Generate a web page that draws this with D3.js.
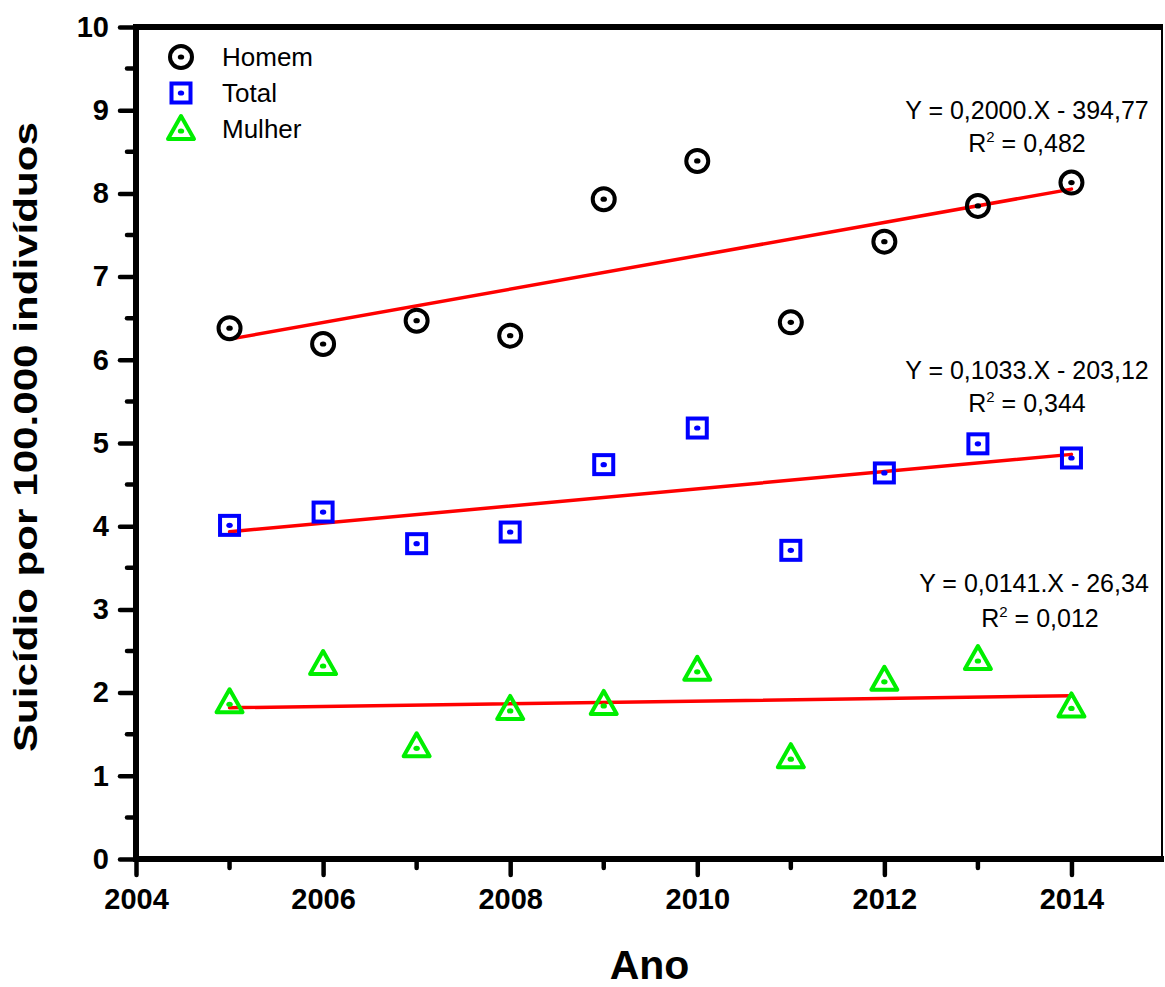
<!DOCTYPE html>
<html>
<head>
<meta charset="utf-8">
<script src="https://cdn.jsdelivr.net/npm/d3@7"></script>
<style>
  body { margin: 0; background: #fff; }
  text { font-family: Arial, "Liberation Sans", sans-serif; }
</style>
</head>
<body>
<script>
// years on x axis
const years = [2005, 2006, 2007, 2008, 2009, 2010, 2011, 2012, 2013, 2014];

// suicides per 100.000 people
const homem  = [6.38, 6.19, 6.47, 6.29, 7.93, 8.39, 6.45, 7.42, 7.85, 8.13];
const total  = [4.01, 4.17, 3.79, 3.93, 4.74, 5.18, 3.71, 4.64, 4.99, 4.82];
const mulher = [1.86, 2.32, 1.33, 1.78, 1.84, 2.25, 1.20, 2.13, 2.38, 1.81];

const seriesNames = ["Homem", "Total", "Mulher"];
const equations = ["Y = 0,2000.X - 394,77", "Y = 0,1033.X - 203,12", "Y = 0,0141.X - 26,34"];
const r2Values = ["0,482", "0,344", "0,012"];

const xTicks = [2004, 2006, 2008, 2010, 2012, 2014];
const yTicks = [0, 1, 2, 3, 4, 5, 6, 7, 8, 9, 10];

const width = 1165;
const height = 987;

const svg = d3.select("body")
    .append("svg")
    .attr("width", width)
    .attr("height", height);

const x = d3.scaleLinear().domain([2004, 2015]).range([136, 1165]);
const y = d3.scaleLinear().domain([0, 10]).range([859, 27]);

const series = [
    { name: seriesNames[0], values: homem, color: "#000000", shape: "circle" },
    { name: seriesNames[1], values: total, color: "#0000ff", shape: "square" },
    { name: seriesNames[2], values: mulher, color: "#00ee00", shape: "triangle" }
];

// least squares fit for each series
function fit(vals) {
    const mx = d3.mean(years), my = d3.mean(vals);
    let sxy = 0, sxx = 0;
    years.forEach((yr, i) => { sxy += (yr - mx) * (vals[i] - my); sxx += (yr - mx) * (yr - mx); });
    const b = sxy / sxx;
    return { b: b, a: my - b * mx };
}

// frame: thin right border, thick top border
svg.append("line")
    .attr("x1", 1162).attr("x2", 1162)
    .attr("y1", y(10)).attr("y2", y(0))
    .attr("stroke", "#000").attr("stroke-width", 2);
svg.append("line")
    .attr("x1", x(2004)).attr("x2", 1163)
    .attr("y1", y(10)).attr("y2", y(10))
    .attr("stroke", "#000").attr("stroke-width", 6);

// regression lines
series.forEach(s => {
    const f = fit(s.values);
    svg.append("line")
        .attr("x1", x(years[0])).attr("y1", y(f.a + f.b * years[0]))
        .attr("x2", x(years[years.length - 1])).attr("y2", y(f.a + f.b * years[years.length - 1]))
        .attr("stroke", "#ff0000")
        .attr("stroke-width", 3.5)
        .attr("stroke-linecap", "round");
});

// draws one marker at cx, cy
function marker(g, shape, color, cx, cy) {
    if (shape === "circle") {
        g.append("circle").attr("cx", cx).attr("cy", cy).attr("r", 11)
            .attr("fill", "none").attr("stroke", color).attr("stroke-width", 4);
    } else if (shape === "square") {
        g.append("rect").attr("x", cx - 9.5).attr("y", cy - 9.5).attr("width", 19).attr("height", 19)
            .attr("fill", "none").attr("stroke", color).attr("stroke-width", 4);
    } else {
        const hw = 13, top = cy - 15, bot = cy + 8;
        g.append("path")
            .attr("d", `M${cx},${top}L${cx + hw},${bot}L${cx - hw},${bot}Z`)
            .attr("fill", "none").attr("stroke", color).attr("stroke-width", 4)
            .attr("stroke-linejoin", "round");
    }
    g.append("ellipse").attr("cx", cx).attr("cy", cy).attr("rx", 3.2).attr("ry", 2.6).attr("fill", color);
}

// data points
series.forEach(s => {
    const g = svg.append("g").attr("class", "points");
    s.values.forEach((v, i) => marker(g, s.shape, s.color, x(years[i]), y(v)));
});

// axes
const xAxis = svg.append("g").attr("transform", `translate(0,${y(0)})`)
    .call(d3.axisBottom(x).tickValues(xTicks).tickFormat(d3.format("d")).tickSize(16).tickPadding(13));
const yAxis = svg.append("g").attr("transform", `translate(${x(2004)},0)`)
    .call(d3.axisLeft(y).tickValues(yTicks).tickSize(16).tickPadding(11));

[xAxis, yAxis].forEach(a => {
    a.select(".domain").remove();
    a.selectAll(".tick line").attr("stroke-width", 4.5).attr("stroke-linecap", "round");
    a.selectAll(".tick text").attr("font-size", 29).attr("font-weight", "bold")
        .attr("font-family", "Arial, 'Liberation Sans', sans-serif").attr("fill", "#000");
});
svg.append("line").attr("x1", x(2004) - 2).attr("x2", 1164).attr("y1", y(0)).attr("y2", y(0))
    .attr("stroke", "#000").attr("stroke-width", 6);
svg.append("line").attr("x1", x(2004)).attr("x2", x(2004)).attr("y1", y(10) - 3).attr("y2", y(0) + 3)
    .attr("stroke", "#000").attr("stroke-width", 6);

// minor ticks
const xMinor = [2005, 2007, 2009, 2011, 2013];
svg.append("g").selectAll("line").data(xMinor).enter().append("line")
    .attr("x1", d => x(d)).attr("x2", d => x(d))
    .attr("y1", y(0)).attr("y2", y(0) + 9)
    .attr("stroke", "#000").attr("stroke-width", 4.5).attr("stroke-linecap", "round");
const yMinor = d3.range(0.5, 10, 1);
svg.append("g").selectAll("line").data(yMinor).enter().append("line")
    .attr("x1", x(2004) - 9).attr("x2", x(2004))
    .attr("y1", d => y(d)).attr("y2", d => y(d))
    .attr("stroke", "#000").attr("stroke-width", 4.5).attr("stroke-linecap", "round");

// axis titles
svg.append("text")
    .attr("x", (x(2004) + 1163) / 2).attr("y", 979)
    .attr("text-anchor", "middle")
    .attr("font-size", 41).attr("font-weight", "bold")
    .text("Ano");
svg.append("text")
    .attr("transform", `translate(37,${(122 + 752) / 2}) rotate(-90)`)
    .attr("text-anchor", "middle")
    .attr("font-size", 34).attr("font-weight", "bold")
    .attr("textLength", 630).attr("lengthAdjust", "spacingAndGlyphs")
    .text("Suicídio por 100.000 indivíduos");

// legend
const legend = svg.append("g").attr("class", "legend");
series.forEach((s, i) => {
    const ly = 57 + i * 36;
    marker(legend, s.shape, s.color, 181, s.shape === "triangle" ? ly + 2 : ly);
    legend.append("text")
        .attr("x", 222).attr("y", ly + 9)
        .attr("font-size", 26)
        .text(s.name);
});

// equation labels
const eqPos = [
    { cx: 1027, y1: 119, cx2: 1027, y2: 152 },
    { cx: 1027, y1: 379, cx2: 1027, y2: 412 },
    { cx: 1034, y1: 592, cx2: 1040, y2: 627 }
];
equations.forEach((eq, i) => {
    svg.append("text")
        .attr("x", eqPos[i].cx).attr("y", eqPos[i].y1)
        .attr("text-anchor", "middle")
        .attr("font-size", 25)
        .text(eq);
    const t = svg.append("text")
        .attr("x", eqPos[i].cx2).attr("y", eqPos[i].y2)
        .attr("text-anchor", "middle")
        .attr("font-size", 25);
    t.append("tspan").text("R");
    t.append("tspan").attr("font-size", 15).attr("dy", -10).text("2");
    t.append("tspan").attr("dy", 10).text(" = " + r2Values[i]);
});
</script>
</body>
</html>
